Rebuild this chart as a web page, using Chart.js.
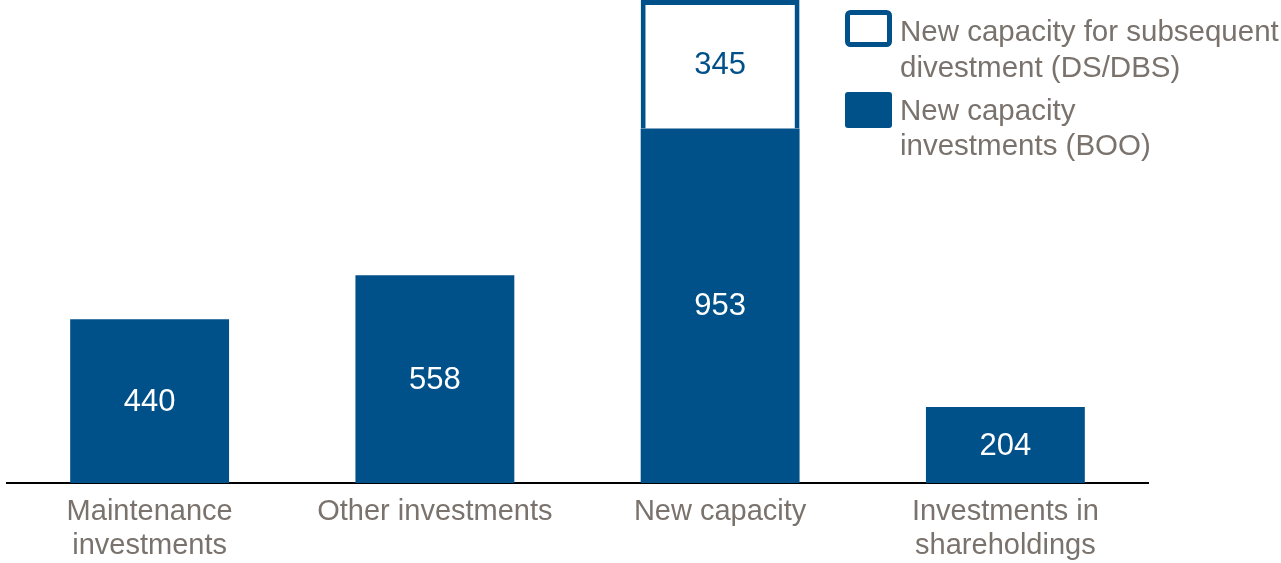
<!DOCTYPE html>
<html>
<head>
<meta charset="utf-8">
<script src="https://cdn.jsdelivr.net/npm/chart.js@4.4.0/dist/chart.umd.min.js"></script>
<style>
  html, body { margin: 0; padding: 0; background: #fff; }
  #wrap { width: 1281px; height: 563px; position: relative; }
</style>
</head>
<body>
<div id="wrap"><canvas id="chart" width="1281" height="563"></canvas></div>
<script>
// dados
const categorias = [
  ['Maintenance', 'investments'],
  'Other investments',
  'New capacity',
  ['Investments in', 'shareholdings']
];
const investimentosBOO = [440, 558, 953, 204];
const desinvestimentoDS = [null, null, 345, null];
const legendaTextos = [
  ['New capacity for subsequent', 'divestment (DS/DBS)'],
  ['New capacity', 'investments (BOO)']
];

const AZUL = '#00508a';
const CINZA = '#7a726c';
const FONTE = '"Liberation Sans", Arial, sans-serif';

// rótulos de valor dentro das barras
const rotulosPlugin = {
  id: 'rotulos',
  afterDatasetsDraw(chart) {
    const ctx = chart.ctx;
    ctx.save();
    ctx.font = '31px ' + FONTE;
    ctx.textAlign = 'center';
    ctx.textBaseline = 'middle';
    chart.data.datasets.forEach((ds, di) => {
      const meta = chart.getDatasetMeta(di);
      meta.data.forEach((bar, i) => {
        const v = ds.data[i];
        if (v === null || v === undefined) return;
        const p = bar.getProps(['x', 'y', 'base'], true);
        ctx.fillStyle = di === 0 ? '#ffffff' : AZUL;
        ctx.fillText(String(v), p.x, (p.y + p.base) / 2 + 1);
      });
    });
    ctx.restore();
  }
};

// legenda desenhada à mão (fica por cima da área do gráfico)
const legendaPlugin = {
  id: 'legendaCustom',
  afterDraw(chart) {
    const ctx = chart.ctx;
    ctx.save();
    // caixa vazada
    ctx.strokeStyle = AZUL;
    ctx.lineWidth = 5;
    ctx.beginPath();
    ctx.roundRect(847.5, 12.5, 42, 32, 3);
    ctx.stroke();
    // caixa cheia
    ctx.fillStyle = AZUL;
    ctx.beginPath();
    ctx.roundRect(845, 92, 47, 36, 3);
    ctx.fill();

    ctx.font = '29.5px ' + FONTE;
    ctx.fillStyle = CINZA;
    ctx.textAlign = 'left';
    ctx.textBaseline = 'alphabetic';
    const bases = [[41, 76.5], [120, 155]];
    legendaTextos.forEach((linhas, k) => {
      linhas.forEach((t, j) => ctx.fillText(t, 900, bases[k][j]));
    });
    ctx.restore();
  }
};

const ctx = document.getElementById('chart').getContext('2d');
const chart = new Chart(ctx, {
  type: 'bar',
  data: {
    labels: categorias,
    datasets: [
      {
        label: legendaTextos[1].join(' '),
        data: investimentosBOO,
        backgroundColor: AZUL,
        borderWidth: 0,
        barPercentage: 0.557,
        categoryPercentage: 1
      },
      {
        label: legendaTextos[0].join(' '),
        data: desinvestimentoDS,
        backgroundColor: '#ffffff',
        borderColor: AZUL,
        borderWidth: 5,
        borderSkipped: 'start',
        barPercentage: 0.557,
        categoryPercentage: 1
      }
    ]
  },
  options: {
    responsive: false,
    animation: false,
    layout: { padding: { left: 7, right: 133, top: 0, bottom: 0 } },
    scales: {
      x: {
        stacked: true,
        grid: { display: false, drawTicks: false },
        border: { display: true, color: '#000000', width: 2 },
        afterFit(scale) { scale.height = 80; },
        ticks: {
          autoSkip: false,
          maxRotation: 0,
          padding: 12,
          color: CINZA,
          font: { family: FONTE, size: 29, lineHeight: 1.18 }
        }
      },
      y: {
        stacked: true,
        display: false,
        min: 0,
        max: 1298
      }
    },
    plugins: {
      legend: { display: false },
      tooltip: { enabled: false }
    }
  },
  plugins: [rotulosPlugin, legendaPlugin]
});
</script>
</body>
</html>
